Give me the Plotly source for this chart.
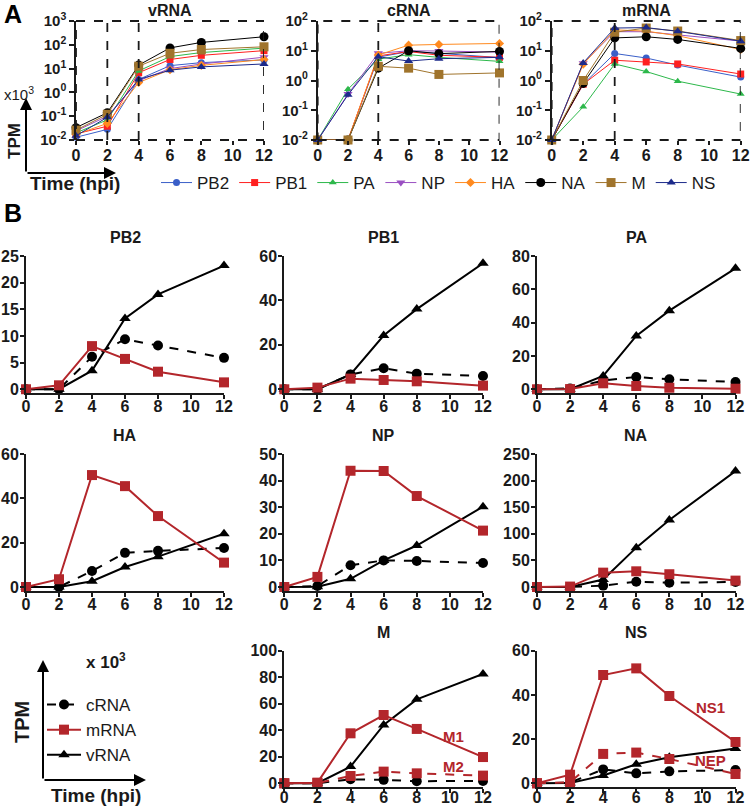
import plotly.graph_objects as go

W, H = 750, 806
FONT = "Liberation Sans, Arial, Helvetica, sans-serif"
INK = "#1a1a1a"
RED = "#B3262B"

times = [0, 2, 4, 6, 8, 12]
segments = ["PB2", "PB1", "PA", "NP", "HA", "NA", "M", "NS"]

# ---- values, TPM x10^3 ----
PB2_vRNA = [0.013, 0.028, 3.5, 13.3, 17.8, 23.2]
PB1_vRNA = [0.018, 0.038, 6.7, 24.2, 36.1, 56.7]
PA_vRNA = [0.020, 0.070, 8.0, 32.0, 47.2, 72.6]
NP_vRNA = [0.024, 0.10, 3.1, 10.0, 15.6, 30.2]
HA_vRNA = [0.017, 0.050, 2.6, 9.0, 13.7, 24.0]
NA_vRNA = [0.033, 0.14, 14.0, 74.0, 126.0, 218.0]
M_vRNA = [0.026, 0.12, 12.6, 44.0, 63.3, 82.5]
NS_vRNA = [0.015, 0.090, 3.5, 8.6, 11.8, 15.7]

PB2_cRNA = [0.01, 0.01, 6.1, 9.4, 8.2, 5.9]
PB1_cRNA = [0.01, 0.01, 6.7, 9.45, 7.05, 6.0]
PA_cRNA = [0.01, 0.51, 5.2, 7.4, 6.0, 4.4]
NP_cRNA = [0.01, 0.35, 8.2, 10.0, 9.8, 9.0]
HA_cRNA = [0.01, 0.01, 7.2, 15.4, 16.3, 17.6]
NA_cRNA = [0.01, 0.01, 2.6, 10.0, 8.0, 9.5]
M_cRNA = [0.01, 0.01, 3.0, 2.6, 1.6, 1.8]
NS_cRNA = [0.01, 0.33, 6.3, 4.5, 5.4, 6.0]

PB2_mRNA = [0.01, 0.75, 8.1, 5.7, 3.3, 1.3]
PB1_mRNA = [0.01, 0.75, 4.8, 4.2, 3.6, 1.65]
PA_mRNA = [0.01, 0.13, 3.6, 2.0, 0.95, 0.35]
NP_mRNA = [0.01, 3.8, 43.7, 43.6, 34.2, 21.2]
HA_mRNA = [0.01, 3.5, 50.5, 45.5, 32.0, 11.0]
NA_mRNA = [0.01, 0.8, 27.0, 29.5, 24.0, 12.0]
M_mRNA = [0.01, 1.0, 42.0, 58.0, 46.0, 22.0]
NS_mRNA = [0.01, 3.9, 58.0, 60.0, 45.0, 21.0]
M1_mRNA = [0.01, 0.5, 37.7, 51.5, 41.0, 19.8]
M2_mRNA = [0.01, 0.2, 5.5, 8.8, 7.5, 5.8]
NS1_mRNA = [0.01, 3.9, 49.0, 52.0, 39.5, 18.7]
NEP_mRNA = [0.01, 0.5, 13.3, 13.9, 11.0, 4.2]

vRNA = dict(PB2=PB2_vRNA, PB1=PB1_vRNA, PA=PA_vRNA, NP=NP_vRNA, HA=HA_vRNA, NA=NA_vRNA, M=M_vRNA, NS=NS_vRNA)
cRNA = dict(PB2=PB2_cRNA, PB1=PB1_cRNA, PA=PA_cRNA, NP=NP_cRNA, HA=HA_cRNA, NA=NA_cRNA, M=M_cRNA, NS=NS_cRNA)
mRNA = dict(PB2=PB2_mRNA, PB1=PB1_mRNA, PA=PA_mRNA, NP=NP_mRNA, HA=HA_mRNA, NA=NA_mRNA, M=M_mRNA, NS=NS_mRNA)

seg_style = {
    "PB2": ("#3A5FC8", "circle", 7),
    "PB1": ("#FF2020", "square", 7),
    "PA": ("#2DB84B", "triangle-up", 7),
    "NP": ("#9A4FC2", "triangle-down", 8),
    "HA": ("#FF8A1F", "diamond", 7),
    "NA": ("#000000", "circle", 9),
    "M": ("#A0742C", "square", 9),
    "NS": ("#1C2A8A", "triangle-up", 8),
}


def px(x):
    return x / W


def py(y):
    return 1 - y / H


def tfont(size=14, color=INK, bold=True):
    d = dict(family=FONT, size=size, color=color)
    if bold:
        d["weight"] = "bold"
    return d


fig = go.Figure()
layout = dict(
    width=W, height=H, margin=dict(l=0, r=0, t=0, b=0, autoexpand=False),
    paper_bgcolor="white", plot_bgcolor="white", showlegend=True,
)
annotations = []
shapes = []

# ---------------- Panel A (log) ----------------
A_axes = [("vRNA", vRNA, 76, 264, 3), ("cRNA", cRNA, 317.7, 499.5, 2), ("mRNA", mRNA, 551.7, 740.7, 2)]
A_top, A_bot = 21, 140
for i, (title, data, x0p, x1p, top) in enumerate(A_axes):
    n = i + 1
    xs = "" if n == 1 else str(n)
    decs = list(range(-2, top + 1))
    layout["xaxis" + xs] = dict(
        domain=[px(x0p), px(x1p)], range=[0, 12], anchor="y" + xs,
        tickvals=[0, 2, 4, 6, 8, 10, 12], ticks="outside", ticklen=4, tickwidth=1.5,
        tickcolor=INK, showline=False, showgrid=False, zeroline=False,
        tickfont=tfont(16), ticklabelstandoff=-3,
    )
    layout["yaxis" + xs] = dict(
        domain=[py(A_bot), py(A_top)], type="log", range=[-2, top], anchor="x" + xs,
        tickvals=[10 ** d for d in decs],
        ticktext=["10<sup>%d</sup>" % d for d in decs],
        ticks="outside", ticklen=5, tickwidth=1.5, tickcolor=INK,
        showline=True, linewidth=1.5, linecolor=INK, showgrid=False, zeroline=False,
        tickfont=tfont(15),
    )
    for seg in segments:
        col, sym, sz = seg_style[seg]
        fig.add_trace(go.Scatter(
            x=times, y=data[seg], mode="lines+markers", name=seg,
            xaxis="x" + xs, yaxis="y" + xs,
            line=dict(color=col, width=1),
            marker=dict(color=col, symbol=sym, size=sz),
            showlegend=(n == 1), legend="legend", cliponaxis=False,
        ))
    dash = dict(color=INK, width=1.8, dash="dash")
    shapes.append(dict(type="rect", xref="x" + xs, yref="y" + xs + " domain",
                       x0=0, x1=12, y0=0, y1=1, line=dash, layer="above"))
    guides = [2, 4] if n == 1 else [4]
    for g in guides:
        shapes.append(dict(type="line", xref="x" + xs, yref="y" + xs + " domain",
                           x0=g, x1=g, y0=0, y1=1, line=dash, layer="above"))
    annotations.append(dict(text=title, x=px((x0p + x1p) / 2), y=py(11), xref="paper", yref="paper",
                            showarrow=False, font=tfont(16), xanchor="center", yanchor="middle"))

# ---------------- Panel B (linear) ----------------
cols = {1: (26, 224), 2: (284.3, 483), 3: (537, 735.5)}
rows = {1: (256, 389.3), 2: (454, 587), 3: (650.7, 783.3)}
standoff = {1: -6, 2: -6, 3: -9}
PAD = 0.03
B_panels = [
    ("PB2", 1, 1, 25, [0, 5, 10, 15, 20, 25]),
    ("PB1", 1, 2, 60, [0, 20, 40, 60]),
    ("PA", 1, 3, 80, [0, 20, 40, 60, 80]),
    ("HA", 2, 1, 60, [0, 20, 40, 60]),
    ("NP", 2, 2, 50, [0, 10, 20, 30, 40, 50]),
    ("NA", 2, 3, 250, [0, 50, 100, 150, 200, 250]),
    ("M", 3, 2, 100, [0, 20, 40, 60, 80, 100]),
    ("NS", 3, 3, 60, [0, 20, 40, 60]),
]
for k, (seg, r, c, ymax, yt) in enumerate(B_panels):
    n = 4 + k
    xs = str(n)
    x0p, x1p = cols[c]
    ytop, yzero = rows[r]
    ybot = yzero + PAD * (yzero - ytop)
    layout["xaxis" + xs] = dict(
        domain=[px(x0p), px(x1p)], range=[0, 12], anchor="y" + xs,
        tickvals=[0, 2, 4, 6, 8, 10, 12], ticks="outside", ticklen=4, tickwidth=2,
        tickcolor=INK, showline=True, linewidth=2, linecolor=INK,
        showgrid=False, zeroline=False, tickfont=tfont(16), ticklabelstandoff=standoff[r],
    )
    layout["yaxis" + xs] = dict(
        domain=[py(ybot), py(ytop)], range=[-PAD * ymax, ymax], anchor="x" + xs,
        tickvals=yt, ticks="outside", ticklen=4, tickwidth=2, tickcolor=INK,
        showline=True, linewidth=2, linecolor=INK, showgrid=False, zeroline=False,
        tickfont=tfont(16), ticklabelstandoff=-2,
    )
    first = (k == 0)
    fig.add_trace(go.Scatter(
        x=times, y=vRNA[seg], mode="lines+markers", name="vRNA",
        xaxis="x" + xs, yaxis="y" + xs, line=dict(color="black", width=2),
        marker=dict(color="black", symbol="triangle-up", size=10),
        showlegend=first, legend="legend2", legendrank=3, cliponaxis=False,
    ))
    fig.add_trace(go.Scatter(
        x=times, y=cRNA[seg], mode="lines+markers", name="cRNA",
        xaxis="x" + xs, yaxis="y" + xs, line=dict(color="black", width=2, dash="dash"),
        marker=dict(color="black", symbol="circle", size=10),
        showlegend=first, legend="legend2", legendrank=1, cliponaxis=False,
    ))
    if seg == "M":
        mlist = [(M1_mRNA, "solid"), (M2_mRNA, "dash")]
    elif seg == "NS":
        mlist = [(NS1_mRNA, "solid"), (NEP_mRNA, "dash")]
    else:
        mlist = [(mRNA[seg], "solid")]
    for j, (vals, ds) in enumerate(mlist):
        fig.add_trace(go.Scatter(
            x=times, y=vals, mode="lines+markers", name="mRNA",
            xaxis="x" + xs, yaxis="y" + xs, line=dict(color=RED, width=2, dash=ds),
            marker=dict(color=RED, symbol="square", size=10),
            showlegend=(first and j == 0), legend="legend2", legendrank=2, cliponaxis=False,
        ))
    title_y = ytop - 8
    annotations.append(dict(text=seg, x=px((x0p + x1p) / 2), y=py(title_y), xref="paper", yref="paper",
                            showarrow=False, font=tfont(16), xanchor="center", yanchor="bottom"))

# isoform labels (in data coords)
for txt, ax, xv, yv in [("M1", "10", 10.2, 35), ("M2", "10", 10.2, 12.5),
                        ("NS1", "11", 10.5, 34.4), ("NEP", "11", 10.5, 10.2)]:
    annotations.append(dict(text=txt, x=xv, y=yv, xref="x" + ax, yref="y" + ax, showarrow=False,
                            font=tfont(15, RED), xanchor="center", yanchor="middle"))

# panel letters
annotations.append(dict(text="A", x=px(2), y=py(14), xref="paper", yref="paper", showarrow=False,
                        font=tfont(25, "black"), xanchor="left", yanchor="middle"))
annotations.append(dict(text="B", x=px(2), y=py(213), xref="paper", yref="paper", showarrow=False,
                        font=tfont(25, "black"), xanchor="left", yanchor="middle"))

# axis key, panel A
annotations += [
    dict(text="", x=px(26), y=py(98), xref="paper", yref="paper", showarrow=True, ax=0, ay=75,
         arrowhead=2, arrowsize=1.2, arrowwidth=2, arrowcolor="black"),
    dict(text="", x=px(116), y=py(173), xref="paper", yref="paper", showarrow=True, ax=-90, ay=0,
         arrowhead=2, arrowsize=1.2, arrowwidth=2, arrowcolor="black"),
    dict(text="x10<sup>3</sup>", x=px(19), y=py(94), xref="paper", yref="paper", showarrow=False,
         font=tfont(15, INK, bold=False), xanchor="center", yanchor="middle"),
    dict(text="TPM", x=px(14), y=py(141), xref="paper", yref="paper", showarrow=False, textangle=-90,
         font=tfont(17, INK), xanchor="center", yanchor="middle"),
    dict(text="Time (hpi)", x=px(75), y=py(184), xref="paper", yref="paper", showarrow=False,
         font=tfont(19, INK), xanchor="center", yanchor="middle"),
]
# axis key, panel B
annotations += [
    dict(text="", x=px(43), y=py(660), xref="paper", yref="paper", showarrow=True, ax=0, ay=120,
         arrowhead=2, arrowsize=1.2, arrowwidth=2, arrowcolor="black"),
    dict(text="", x=px(146), y=py(780), xref="paper", yref="paper", showarrow=True, ax=-103, ay=0,
         arrowhead=2, arrowsize=1.2, arrowwidth=2, arrowcolor="black"),
    dict(text="x 10<sup>3</sup>", x=px(106), y=py(661), xref="paper", yref="paper", showarrow=False,
         font=tfont(17, INK), xanchor="center", yanchor="middle"),
    dict(text="TPM", x=px(22), y=py(722), xref="paper", yref="paper", showarrow=False, textangle=-90,
         font=tfont(20, INK), xanchor="center", yanchor="middle"),
    dict(text="Time (hpi)", x=px(96), y=py(795), xref="paper", yref="paper", showarrow=False,
         font=tfont(19, INK), xanchor="center", yanchor="middle"),
]

layout["annotations"] = annotations
layout["shapes"] = shapes
layout["legend"] = dict(
    orientation="h", x=px(156), y=py(183), xanchor="left", yanchor="middle",
    font=dict(family=FONT, size=17, color=INK), bgcolor="rgba(0,0,0,0)",
    itemwidth=31, tracegroupgap=0,
)
layout["legend2"] = dict(
    orientation="v", x=px(42), y=py(687), xanchor="left", yanchor="top",
    font=dict(family=FONT, size=17, color=INK), bgcolor="rgba(0,0,0,0)",
    itemwidth=34, tracegroupgap=0, traceorder="normal",
)
fig.update_layout(**layout)
fig.write_html(
    "out.html",
    config={"displayModeBar": False},
    post_script="document.body.style.margin='0';document.body.style.padding='0';"
                "document.documentElement.style.overflow='hidden';",
)
